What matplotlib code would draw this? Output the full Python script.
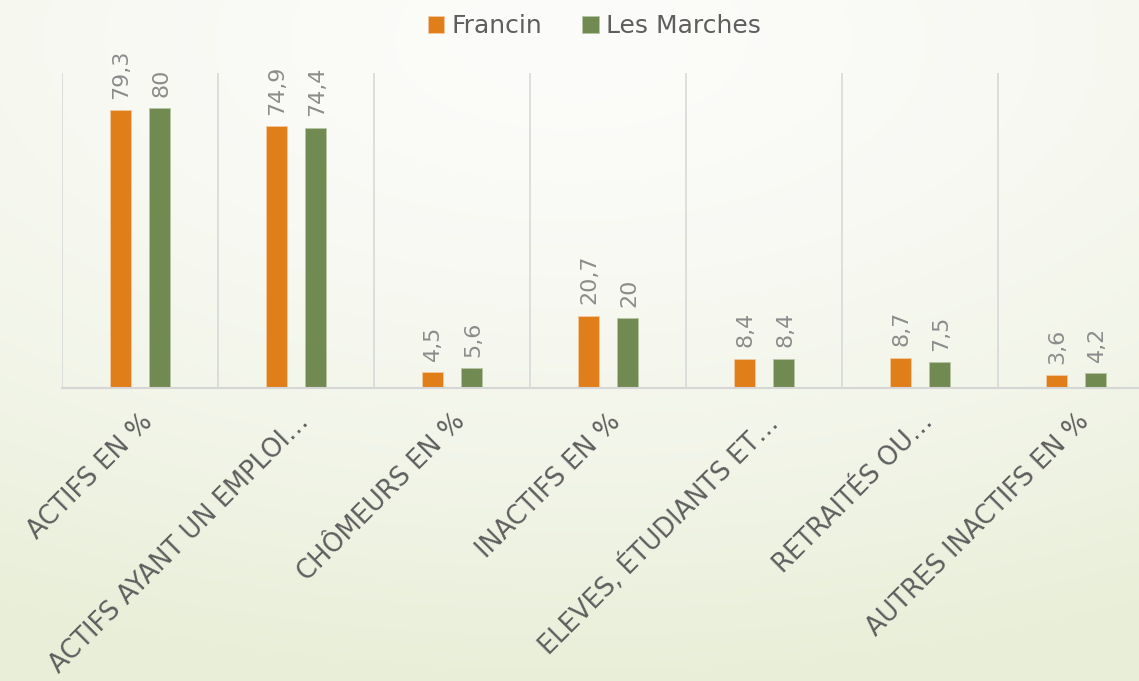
import numpy as np
import matplotlib.pyplot as plt

categories = ["ACTIFS EN %", "ACTIFS AYANT UN EMPLOI…", "CHÔMEURS EN %", "INACTIFS EN %",
              "ELEVES, ÉTUDIANTS ET…", "RETRAITÉS OU…", "AUTRES INACTIFS EN %"]
francin = [79.3, 74.9, 4.5, 20.7, 8.4, 8.7, 3.6]
les_marches = [80, 74.4, 5.6, 20, 8.4, 7.5, 4.2]

orange = "#E07E1A"
green = "#718A52"
text_grey = "#5E5E5E"
value_grey = "#8C8C8C"
font = "DejaVu Sans"

fig = plt.figure(figsize=(11.39, 6.81), dpi=100)

# background gradient (white near top centre, pale green towards bottom)
bg = fig.add_axes([0, 0, 1, 1], zorder=-10)
yy, xx = np.mgrid[0:681, 0:1139]
d = np.sqrt(((xx - 570) / 1300.0) ** 2 + ((yy - 40) / 660.0) ** 2)
t = np.clip(d, 0, 1) ** 1.5
c0 = np.array([0xFC, 0xFC, 0xFA]) / 255.0
c1 = np.array([0xE8, 0xEE, 0xD7]) / 255.0
img = c0[None, None, :] * (1 - t[..., None]) + c1[None, None, :] * t[..., None]
bg.imshow(img, aspect="auto", extent=[0, 1, 0, 1])
bg.axis("off")

# plot area: 7 categories of ~156 px starting at x=62, baseline y=388, top y=73
left = 62 / 1139
width = 156 * 7 / 1139
bottom = (681 - 388) / 681
height = (388 - 73) / 681
ax = fig.add_axes([left, bottom, width, height])
ax.patch.set_alpha(0)

x = np.arange(len(categories))
bw = 0.135
off = 0.128
b1 = ax.bar(x - off, francin, bw, color=orange, edgecolor="#F2C9A0", linewidth=0.6, label="Francin")
b2 = ax.bar(x + off, les_marches, bw, color=green, edgecolor="#B8C6A6", linewidth=0.6, label="Les Marches")

for bars, vals in [(b1, francin), (b2, les_marches)]:
    for rect, v in zip(bars, vals):
        lbl = f"{v:g}".replace(".", ",")
        ax.annotate(lbl, (rect.get_x() + rect.get_width() / 2, rect.get_height()),
                    xytext=(1, 8), textcoords="offset points", rotation=90,
                    ha="center", va="bottom", fontsize=16, color=value_grey, family=font)

ax.set_xlim(-0.5, len(categories) - 0.5)
ax.set_ylim(0, 90)
for xv in np.arange(-0.5, len(categories) + 0.5, 1):
    ax.axvline(xv, color="#D6D6D6", linewidth=1.1, zorder=0)
for s in ["top", "right", "left"]:
    ax.spines[s].set_visible(False)
ax.spines["bottom"].set_color("#D6D6D6")
ax.spines["bottom"].set_linewidth(1.5)
ax.set_yticks([])
ax.set_xticks(x)
ax.set_xticklabels(categories, rotation=45, ha="right", rotation_mode="anchor",
                   fontsize=18.5, color=text_grey, family=font)
ax.tick_params(axis="x", length=0, pad=15)

fig.legend(handles=[b1, b2], loc="upper center", bbox_to_anchor=(0.522, 1.012), ncol=2,
           frameon=False, prop={"family": font, "size": 18}, labelcolor=text_grey,
           handlelength=0.65, handleheight=0.65, handletextpad=0.3, columnspacing=1.6)

fig.savefig("out.png", dpi=100)
